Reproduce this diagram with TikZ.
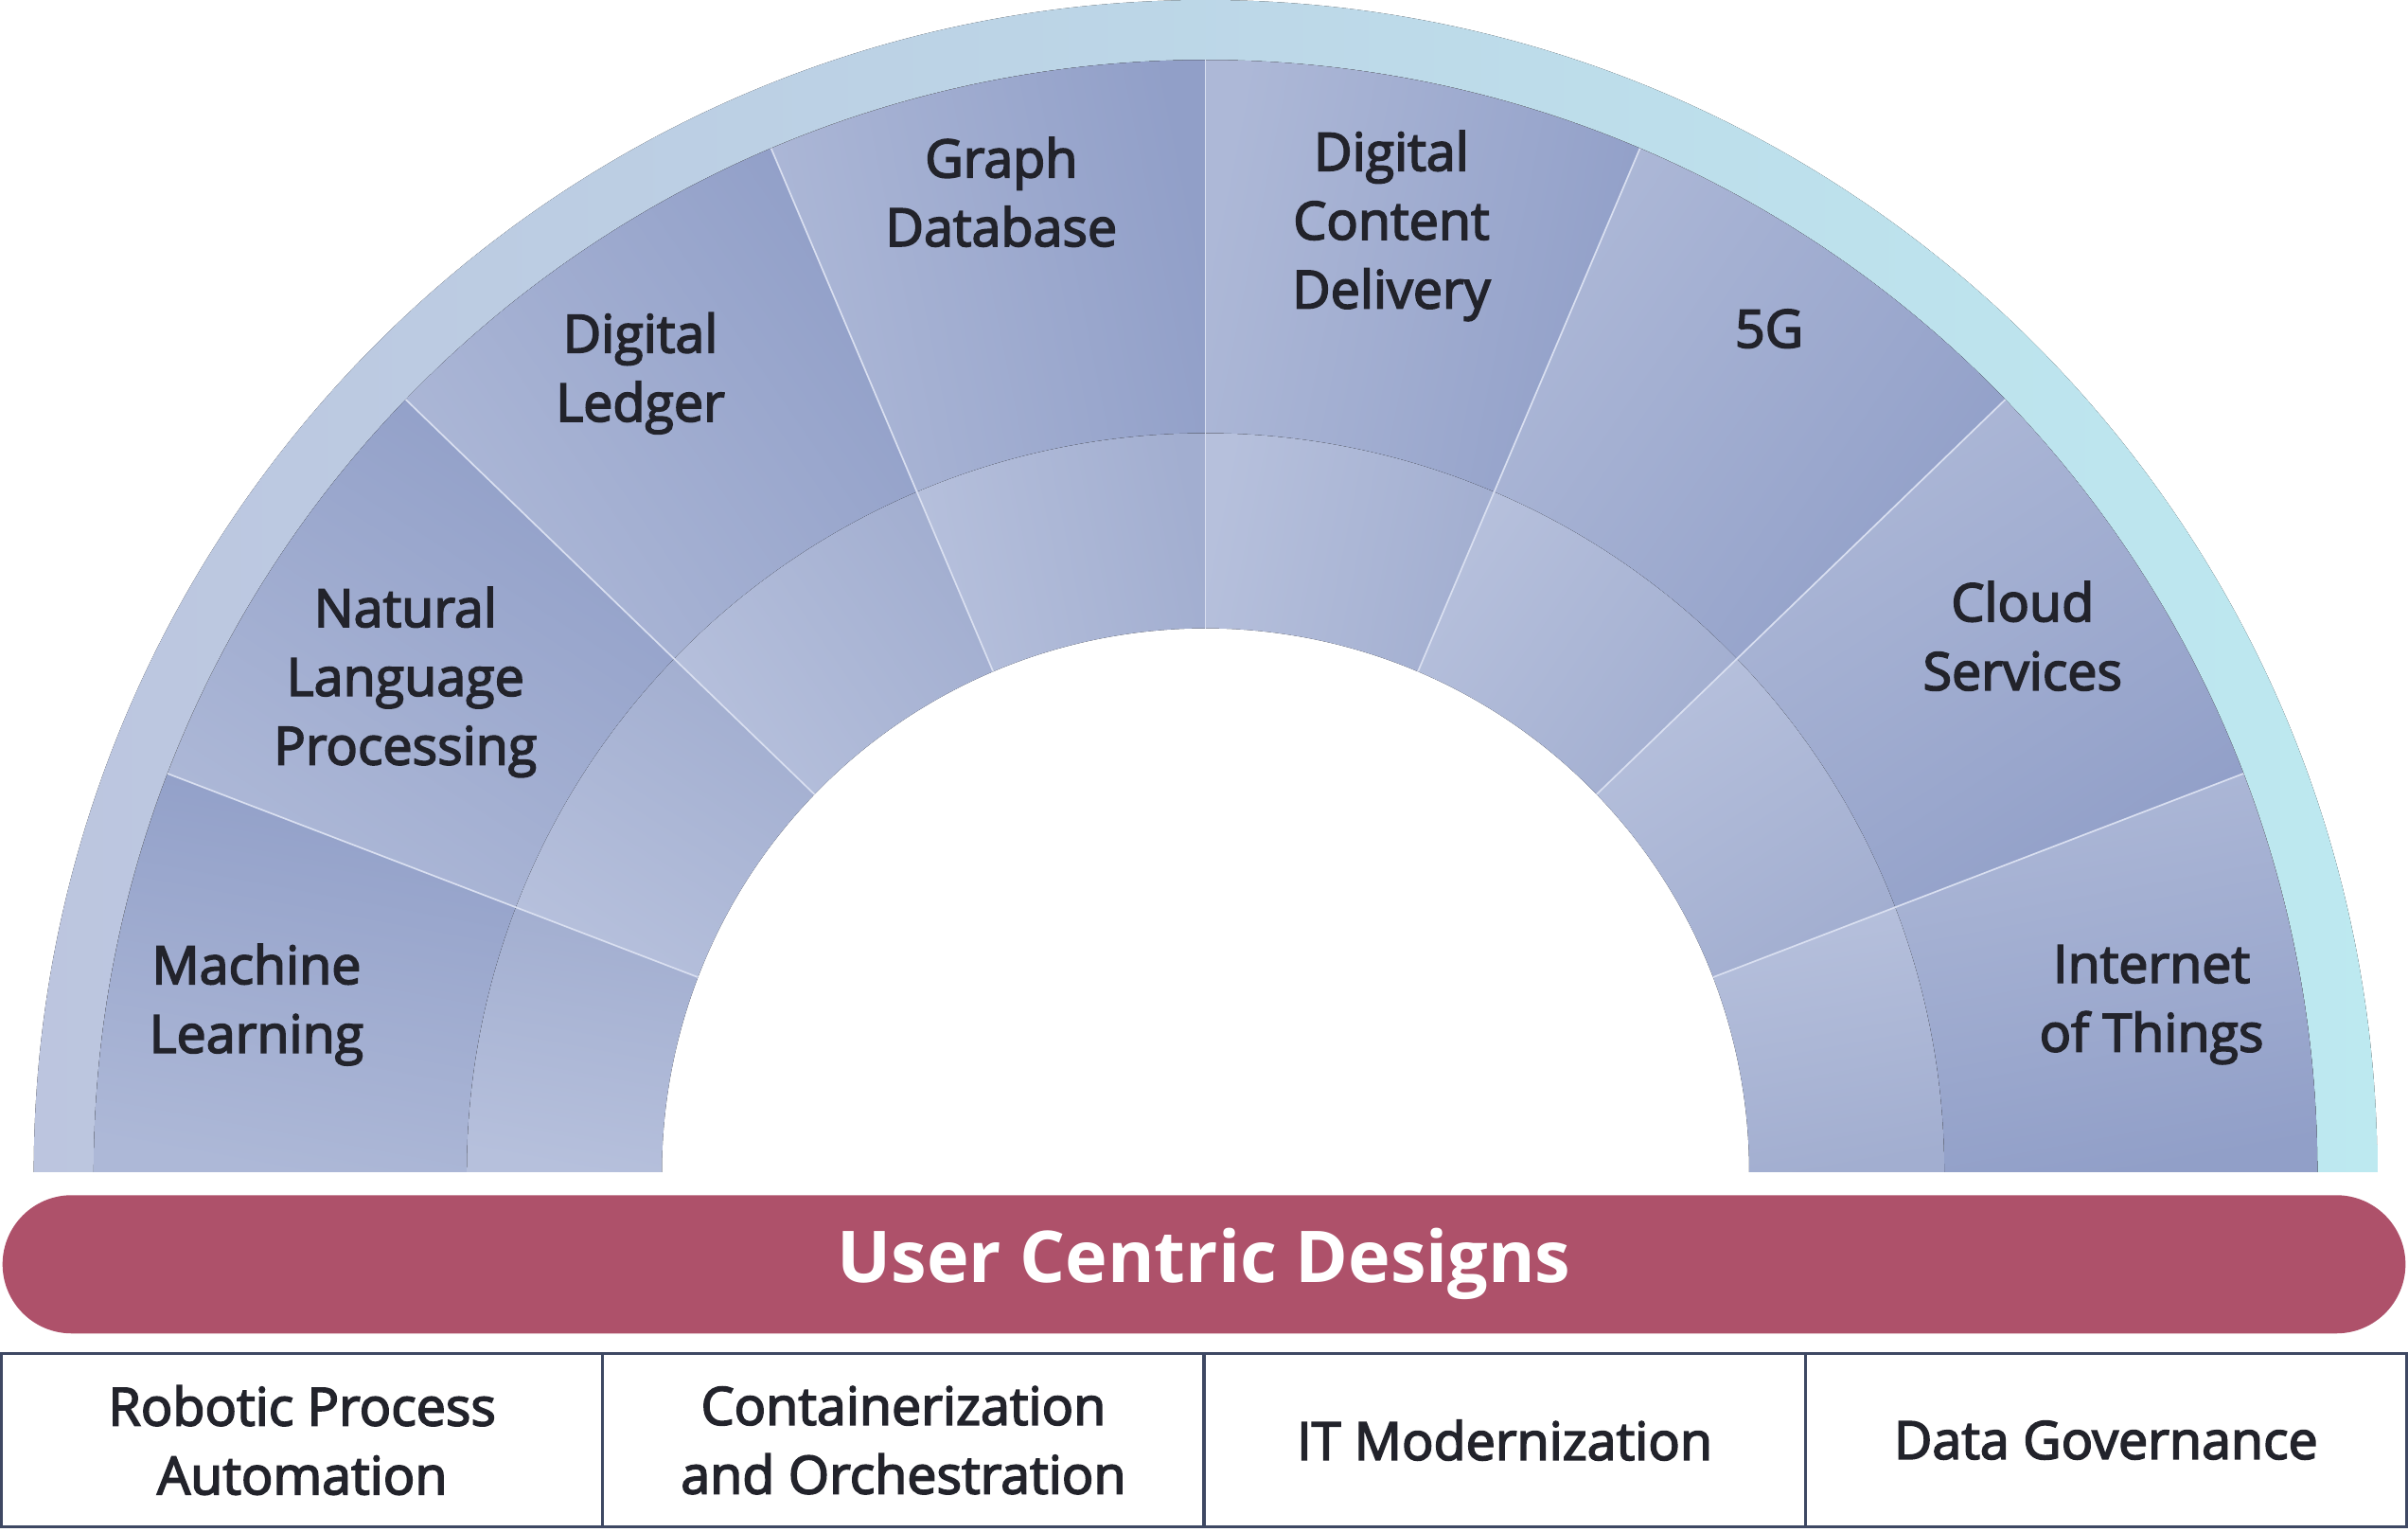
\documentclass[tikz,border=0pt]{standalone}
\usepackage{fontspec}
\setmainfont{Open Sans}
\newfontfamily\semifont[FakeBold=3]{Open Sans}
\usetikzlibrary{calc,shapes.misc}
\definecolor{bandL}{HTML}{BCC5DF}
\definecolor{bandR}{HTML}{BDE9F0}
\definecolor{outL}{HTML}{ADB8D7}
\definecolor{outD}{HTML}{919FC8}
\definecolor{inL}{HTML}{B6C0DC}
\definecolor{inD}{HTML}{A2AED0}
\definecolor{sepc}{HTML}{D9DFF0}
\definecolor{bannerc}{HTML}{AE516A}
\definecolor{borderc}{HTML}{3E4863}
\definecolor{txt}{HTML}{22232B}
\tikzset{
  lbl/.style={align=center, text=txt, inner sep=0pt,
    font=\semifont\fontsize{19.5pt}{25.5pt}\selectfont},
  boxst/.style={draw=borderc, line width=1.1pt, fill=white, align=center, text=txt,
    minimum width=7.83cm, minimum height=2.26cm, inner sep=0pt,
    font=\semifont\fontsize{19.5pt}{25.5pt}\selectfont},
  sepline/.style={draw=sepc, line width=0.6pt},
}
\begin{document}
\begin{tikzpicture}[x=0.02cm,y=0.02cm]
\useasboundingbox (0,0) rectangle (1568,997);
\coordinate (O) at (785,234);
% outer band
\fill[left color=bandL, right color=bandR]
  ($(O)+(180:763)$) arc[start angle=180,end angle=0,radius=763]
  -- ($(O)+(0:724)$) arc[start angle=0,end angle=180,radius=724] -- cycle;
% sectors
\foreach \a/\b in {159/180,136/159,113/136,90/113,67/90,44/67,21/44,0/21}{
  \pgfmathsetmacro{\ang}{(\a+\b)/2-180}
  \fill[top color=outD, bottom color=outL, shading angle=\ang]
    ($(O)+(\a:724)$) arc[start angle=\a,end angle=\b,radius=724]
    -- ($(O)+(\b:481)$) arc[start angle=\b,end angle=\a,radius=481] -- cycle;
  \fill[top color=inD, bottom color=inL, shading angle=\ang]
    ($(O)+(\a:481)$) arc[start angle=\a,end angle=\b,radius=481]
    -- ($(O)+(\b:354)$) arc[start angle=\b,end angle=\a,radius=354] -- cycle;
}
\foreach \a in {21,44,67,90,113,136,159}{
  \coordinate (s1-\a) at ($(O)+(\a:354)$);
  \coordinate (s2-\a) at ($(O)+(\a:724)$);
  \draw[sepline] (s1-\a) -- (s2-\a);
}
% labels
\node[lbl] (ml)  at (167,343) {Machine\\Learning};
\node[lbl] (nlp) at (264,553) {Natural\\Language\\Processing};
\node[lbl] (dl)  at (417,754) {Digital\\Ledger};
\node[lbl] (gd)  at (652,872) {Graph\\Database};
\node[lbl] (dcd) at (906,850) {Digital\\Content\\Delivery};
\node[lbl] (fg)  at (1152,783) {5G};
\node[lbl] (cs)  at (1317,583) {Cloud\\Services};
\node[lbl] (iot) at (1401,343) {Internet\\of Things};
% banner
\node[rounded rectangle, fill=bannerc, minimum width=31.3cm, minimum height=1.8cm,
  inner sep=0pt, text=white, font=\bfseries\fontsize{26.5pt}{32pt}\selectfont]
  (banner) at (784,174) {User Centric Designs};
% bottom boxes
\node[boxst] (b1) at (196.75,59.5) {Robotic Process\\Automation};
\node[boxst] (b2) at (588.25,59.5) {Containerization\\and Orchestration};
\node[boxst] (b3) at (979.75,59.5) {IT Modernization};
\node[boxst] (b4) at (1371.25,59.5) {Data Governance};
\end{tikzpicture}
\end{document}
